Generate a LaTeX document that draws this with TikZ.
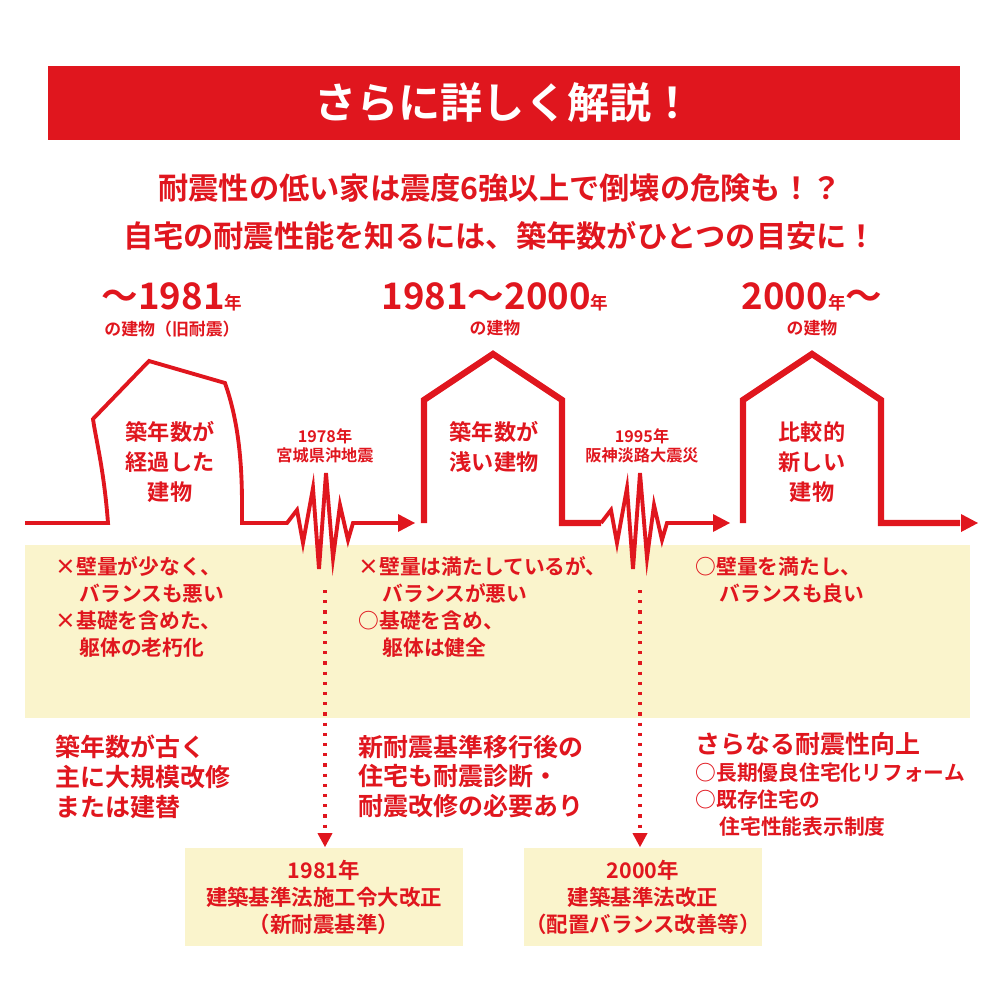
\documentclass[tikz,border=0pt]{standalone}
\usepackage{fontspec}
\setmainfont{Noto Sans CJK JP}[BoldFont={Noto Sans CJK JP Bold}]
\usetikzlibrary{arrows.meta,positioning}
\definecolor{jred}{HTML}{E0161E}
\definecolor{jyel}{HTML}{FAF4CC}

\begin{document}
\begin{tikzpicture}[
    x=0.01cm, y=-0.01cm,
    wave/.style={draw=jred, line width=1.1pt, line join=miter},
    wall/.style={draw=jred, line width=1.8pt, line join=miter},
    note/.style={font=\bfseries\fontsize{5.9}{7.7}\selectfont, text=jred, align=left, anchor=north west, inner sep=0pt},
    lead/.style={font=\bfseries\fontsize{7.1}{8.5}\selectfont, text=jred, align=left, anchor=north west, inner sep=0pt},
    inhouse/.style={font=\bfseries\fontsize{6.3}{8.5}\selectfont, text=jred, align=center, inner sep=0pt},
    year/.style={font=\bfseries\fontsize{10.4}{12}\selectfont, text=jred, inner sep=0pt},
    sub/.style={font=\bfseries\fontsize{4.8}{5}\selectfont, text=jred, inner sep=0pt},
    quake/.style={font=\bfseries\fontsize{4.6}{5.5}\selectfont, text=jred, align=center, inner sep=0pt},
    lawbox/.style={fill=jyel, minimum height=0.98cm, inner xsep=0pt, font=\bfseries\fontsize{6.1}{7.7}\selectfont, text=jred, align=center},
    pin/.style={draw=jred, line width=0.9pt, dotted, -{Triangle[length=4pt,width=4pt]}}
]
\useasboundingbox (0,0) rectangle (1000,1000);

% title banner
\fill[jred] (48,66) rectangle (960,140);
\node[font=\bfseries\fontsize{12}{12}\selectfont, text=white] (title) at (504,103) {さらに詳しく解説！};
\node[font=\bfseries\fontsize{8.6}{13.6}\selectfont, text=jred, align=center] (headline) at (500,212)
    {耐震性の低い家は震度6強以上で倒壊の危険も！？\\自宅の耐震性能を知るには、築年数がひとつの目安に！};

% yellow band
\fill[jyel] (25,545) rectangle (970,718);

% periods
\node[year] (era1) at (172,297) {〜1981{\fontsize{5}{6}\selectfont 年}};
\node[sub, below=6.5pt of era1.center] (era1-sub) {の建物（旧耐震）};
\node[year] (era2) at (495,297) {1981〜2000{\fontsize{5}{6}\selectfont 年}};
\node[sub, below=6.5pt of era2.center] (era2-sub) {の建物};
\node[year] (era3) at (812,297) {2000{\fontsize{5}{6}\selectfont 年}〜};
\node[sub, below=6.5pt of era3.center] (era3-sub) {の建物};

% timeline with houses and quakes
\draw[wave] (25,523) -- (108,523) .. controls (104,470) and (96,440) .. (93,419) -- (149,361) -- (225,383)
    .. controls (238,420) and (242,460) .. (242,505) -- (242,523) -- (287,523)
    -- (297,510) -- (303,543) -- (313,488) -- (319,569) -- (326,473) -- (333,558)
    -- (340,505) -- (348,540) -- (353,523) -- (400,523);
\fill[jred] (415,523) -- (398,514) -- (398,532) -- cycle;
\draw[wall] (424,523) -- (424,400) -- (493,354) -- (562,400) -- (562,523) -- (601,523);
\draw[wave] (601,523)
    -- (611,510) -- (617,543) -- (627,488) -- (633,569) -- (640,473) -- (647,558)
    -- (654,505) -- (662,540) -- (667,523) -- (715,523);
\fill[jred] (730,523) -- (713,514) -- (713,532) -- cycle;
\draw[wall] (743,523) -- (743,400) -- (812,354) -- (881,400) -- (881,523) -- (960,523);
\fill[jred] (978,523) -- (961,514) -- (961,532) -- cycle;

\node[inhouse] (house1) at (170,462) {築年数が\\経過した\\建物};
\node[inhouse] (house2) at (494,447) {築年数が\\浅い建物};
\node[inhouse] (house3) at (812,462) {比較的\\新しい\\建物};
\node[quake] (quake1) at (325,446) {1978年\\宮城県沖地震};
\node[quake] (quake2) at (642,446) {1995年\\阪神淡路大震災};

% notes in band
\node[note] (note1) at (55,556) {×壁量が少なく、\\\hspace{1.15em}バランスも悪い\\×基礎を含めた、\\\hspace{1.15em}躯体の老朽化};
\node[note] (note2) at (358,556) {×壁量は満たしているが、\\\hspace{1.15em}バランスが悪い\\○基礎を含め、\\\hspace{1.15em}躯体は健全};
\node[note] (note3) at (695,556) {○壁量を満たし、\\\hspace{1.15em}バランスも良い};

% measures
\node[lead] (lead1) at (55,734) {築年数が古く\\主に大規模改修\\または建替};
\node[lead] (lead2) at (358,734) {新耐震基準移行後の\\住宅も耐震診断・\\耐震改修の必要あり};
\node[lead] (lead3) at (695,732) {さらなる耐震性向上};
\node[note] (note4) at (695,762) {○長期優良住宅化リフォーム\\○既存住宅の\\\hspace{1.15em}住宅性能表示制度};

% law boxes
\node[lawbox, minimum width=2.78cm] (law1) at (324,897) {1981年\\建築基準法施工令大改正\\（新耐震基準）};
\node[lawbox, minimum width=2.37cm] (law2) at (643,897) {2000年\\建築基準法改正\\（配置バランス改善等）};
\coordinate (drop1) at (325,590);
\coordinate (drop2) at (640,590);
\draw[pin] (drop1) -- (law1.north -| drop1);
\draw[pin] (drop2) -- (law2.north -| drop2);

\end{tikzpicture}
\end{document}
